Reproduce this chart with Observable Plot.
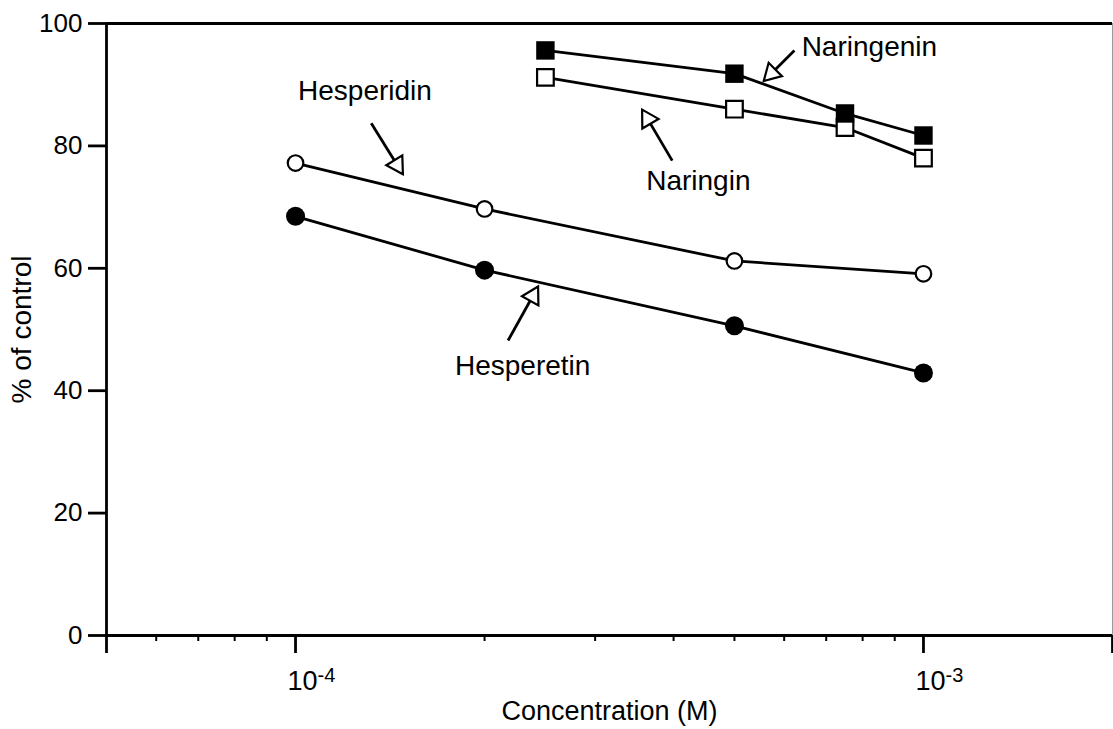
<!DOCTYPE html>
<html><head><meta charset="utf-8">
<script src="https://cdn.jsdelivr.net/npm/d3@7"></script>
<script src="https://cdn.jsdelivr.net/npm/@observablehq/plot@0.6"></script>
<style>body{margin:0;background:#fff;}</style>
</head><body><div id="chart"></div>
<script>
// ---- data ----
const hespConc = [1e-4, 2e-4, 5e-4, 1e-3];
const naringConc = [2.5e-4, 5e-4, 7.5e-4, 1e-3];
const hesperidin = [77.2, 69.7, 61.2, 59.1];
const hesperetin = [68.5, 59.7, 50.6, 42.9];
const naringenin = [95.6, 91.8, 85.3, 81.7];
const naringin = [91.2, 86.0, 83.0, 78.0];

const yTicks = [0, 20, 40, 60, 80, 100];
const xMajorTicks = [5e-5, 1e-4, 1e-3, 2e-3];
const xLabelTicks = [1e-4, 1e-3];
const xLabelBase = ["10", "10"];
const xLabelExp = ["-4", "-3"];
const xMinorTicks = [6e-5, 7e-5, 8e-5, 9e-5, 2e-4, 3e-4, 4e-4, 5e-4, 6e-4, 7e-4, 8e-4, 9e-4];

const annLabels = ["Naringenin", "Naringin", "Hesperidin", "Hesperetin"];
const annX = [8.2e-4, 4.38e-4, 1.29e-4, 2.30e-4];
const annY = [96.1, 74.2, 88.9, 44.0];
const tailX = [6.23e-4, 3.98e-4, 1.32e-4, 2.18e-4];
const tailY = [95.6, 77.6, 83.7, 48.2];
const tipX = [5.58e-4, 3.57e-4, 1.48e-4, 2.43e-4];
const tipY = [90.7, 85.8, 75.5, 56.9];

// ---- build ----
const W = 1113, H = 729, mL = 106, mR = 1, mT = 23, mB = 94;
const xDomain = [5e-5, 2e-3], yDomain = [0, 100];
const rows = (conc, vals, name) => conc.map((c, i) => ({conc: c, val: vals[i], name}));
const sHesperidin = rows(hespConc, hesperidin, "Hesperidin");
const sHesperetin = rows(hespConc, hesperetin, "Hesperetin");
const sNaringenin = rows(naringConc, naringenin, "Naringenin");
const sNaringin = rows(naringConc, naringin, "Naringin");

const xs = d3.scaleLog().domain(xDomain).range([mL, W - mR]);
const ys = d3.scaleLinear().domain(yDomain).range([H - mB, mT]);
const arrows = annLabels.map((l, i) => ({label: l, x: annX[i], y: annY[i], x1: tailX[i], y1: tailY[i], x2: tipX[i], y2: tipY[i]}));
const heads = arrows.map(a => {
  const px1 = xs(a.x1), py1 = ys(a.y1), px2 = xs(a.x2), py2 = ys(a.y2);
  const dx = px2 - px1, dy = py2 - py1, len = Math.hypot(dx, dy);
  const ux = dx / len, uy = dy / len, back = 10;
  return {x: xs.invert(px2 - ux * back), y: ys.invert(py2 - uy * back), angle: Math.atan2(dx, -dy) * 180 / Math.PI};
});

const font = "'Liberation Sans', Arial, Helvetica, sans-serif";
const lineW = 2.8;

const chart = Plot.plot({
  width: W, height: H,
  marginLeft: mL, marginRight: mR, marginTop: mT, marginBottom: mB,
  style: {fontFamily: font, fontSize: "26px", color: "black", background: "white"},
  x: {type: "log", domain: xDomain, label: null},
  y: {domain: yDomain, label: null},
  marks: [
    // frame
    Plot.ruleX([2e-3], {y1: 0, y2: 100, stroke: "#9a9a9a", strokeWidth: 1}),
    Plot.ruleY([100], {x1: 5e-5, x2: 2e-3, stroke: "black", strokeWidth: lineW}),
    Plot.ruleY([0], {x1: 5e-5, x2: 2e-3, stroke: "black", strokeWidth: lineW}),
    Plot.ruleX([5e-5], {y1: 0, y2: 100, stroke: "black", strokeWidth: lineW}),
    // axes
    Plot.axisY(yTicks, {anchor: "left", tickSize: 18, tickPadding: 6, fontSize: 26, strokeWidth: lineW, label: null}),
    Plot.axisX(xMajorTicks, {anchor: "bottom", tickSize: 18, strokeWidth: lineW, tickFormat: () => "", label: null}),
    Plot.axisX(xMinorTicks, {anchor: "bottom", tickSize: 6, strokeWidth: 2, tickFormat: () => "", label: null}),
    Plot.text(xLabelTicks, {x: d => d, frameAnchor: "bottom", lineAnchor: "middle", text: (d, i) => xLabelBase[i], textAnchor: "start", dx: -8, dy: 46, fontSize: 27}),
    Plot.text(xLabelTicks, {x: d => d, frameAnchor: "bottom", lineAnchor: "middle", text: (d, i) => xLabelExp[i], textAnchor: "start", dx: 22, dy: 40, fontSize: 20}),
    Plot.text(["Concentration (M)"], {frameAnchor: "bottom", lineAnchor: "middle", textAnchor: "middle", dy: 76, fontSize: 27}),
    Plot.text(["% of control"], {frameAnchor: "left", lineAnchor: "middle", textAnchor: "middle", rotate: -90, dx: -84, fontSize: 28}),
    // series
    Plot.line(sHesperidin, {x: "conc", y: "val", stroke: "black", strokeWidth: lineW}),
    Plot.line(sHesperetin, {x: "conc", y: "val", stroke: "black", strokeWidth: lineW}),
    Plot.line(sNaringenin, {x: "conc", y: "val", stroke: "black", strokeWidth: lineW}),
    Plot.line(sNaringin, {x: "conc", y: "val", stroke: "black", strokeWidth: lineW}),
    Plot.dot(sHesperidin, {x: "conc", y: "val", r: 7.8, fill: "white", stroke: "black", strokeWidth: 2.2}),
    Plot.dot(sHesperetin, {x: "conc", y: "val", r: 9.5, fill: "black", stroke: "none"}),
    Plot.dot(sNaringin, {x: "conc", y: "val", symbol: "square", r: 9.4, fill: "white", stroke: "black", strokeWidth: 2.2}),
    Plot.dot(sNaringenin, {x: "conc", y: "val", symbol: "square", r: 10.4, fill: "black", stroke: "none"}),
    // annotations
    Plot.link(arrows, {x1: "x1", y1: "y1", x2: "x2", y2: "y2", stroke: "black", strokeWidth: lineW}),
    Plot.dot(heads, {x: "x", y: "y", symbol: "triangle", r: 7, rotate: "angle", fill: "white", stroke: "black", strokeWidth: 2.2}),
    Plot.text(arrows, {x: "x", y: "y", text: "label", fontSize: 28, fill: "black"})
  ]
});
document.getElementById("chart").appendChild(chart);
</script>
</body></html>
